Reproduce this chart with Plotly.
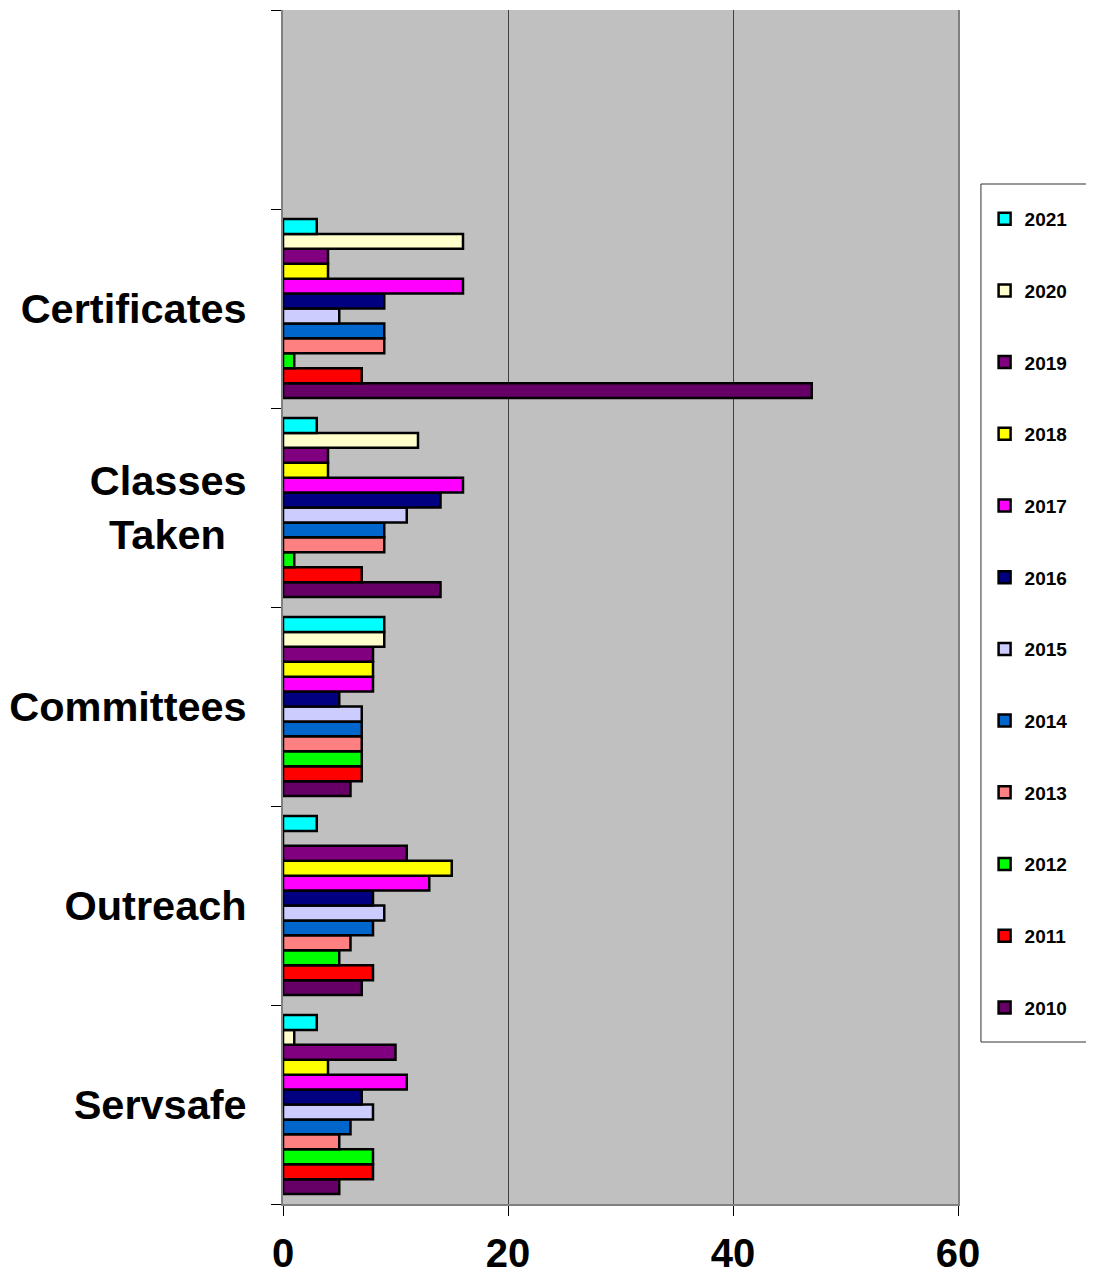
import plotly.graph_objects as go

categories = ["Servsafe", "Outreach", "Committees", "Classes<br>Taken\u2002", "Certificates", " "]
years = ["2010", "2011", "2012", "2013", "2014", "2015", "2016", "2017", "2018", "2019", "2020", "2021"]

# values per year, order: Servsafe, Outreach, Committees, Classes Taken, Certificates
v2010 = [5, 7, 6, 14, 47]
v2011 = [8, 8, 7, 7, 7]
v2012 = [8, 5, 7, 1, 1]
v2013 = [5, 6, 7, 9, 9]
v2014 = [6, 8, 7, 9, 9]
v2015 = [8, 9, 7, 11, 5]
v2016 = [7, 8, 5, 14, 9]
v2017 = [11, 13, 8, 16, 16]
v2018 = [4, 15, 8, 4, 4]
v2019 = [10, 11, 8, 4, 4]
v2020 = [1, 0, 9, 12, 16]
v2021 = [3, 3, 9, 3, 3]

series = [v2010, v2011, v2012, v2013, v2014, v2015, v2016, v2017, v2018, v2019, v2020, v2021]
colors = ["#660066", "#FF0000", "#00FF00", "#FF8080", "#0066CC", "#CCCCFF",
          "#000080", "#FF00FF", "#FFFF00", "#800080", "#FFFFCC", "#00FFFF"]

x_ticks = [0, 20, 40, 60]

FONT = "Arial, Liberation Sans, sans-serif"

fig = go.Figure()

for i, (year, vals, color) in enumerate(zip(years, series, colors)):
    fig.add_trace(
        go.Bar(
            y=categories[:len(vals)],
            x=vals,
            name=year,
            orientation="h",
            marker=dict(color=color, line=dict(color="black", width=2.5)),
            legendgroup=year,
            legendrank=len(years) - i,
        )
    )

# the page is offset by the browser's 8px body margin, so the figure is
# 8px smaller than the window in both directions
fig.update_layout(
    width=1086,
    height=1269,
    paper_bgcolor="white",
    plot_bgcolor="#C0C0C0",
    barmode="group",
    bargap=0.1,
    bargroupgap=0,
    margin=dict(l=275, r=136, t=2, b=73, autoexpand=False),
    font=dict(family=FONT, color="black"),
    xaxis=dict(
        range=[0, 60],
        tickvals=x_ticks,
        ticks="outside",
        ticklen=10,
        tickcolor="black",
        showgrid=True,
        gridcolor="#404040",
        gridwidth=1,
        zeroline=False,
        showline=True,
        linecolor="#808080",
        linewidth=2,
        tickfont=dict(size=40, family=FONT, weight="bold"),
        ticklabelstandoff=3,
    ),
    yaxis=dict(
        categoryorder="array",
        categoryarray=categories,
        range=[-0.5, 5.5],
        tickson="boundaries",
        ticks="outside",
        ticklen=10,
        tickcolor="black",
        showgrid=False,
        showline=True,
        mirror=True,
        linecolor="#808080",
        linewidth=2,
        tickfont=dict(size=41.5, family=FONT, weight="bold"),
        ticklabelstandoff=26,
    ),
    legend=dict(
        x=1.0394,
        xanchor="left",
        y=0.841,
        yanchor="top",
        traceorder="grouped",
        tracegroupgap=44,
        bgcolor="rgba(0,0,0,0)",
        borderwidth=0,
        font=dict(size=19, family=FONT, weight="bold"),
        itemwidth=30,
    ),
    shapes=[
        dict(
            type="rect",
            xref="paper",
            yref="paper",
            x0=1.034,
            x1=1.25,
            y0=(1204 - 1042) / 1194,
            y1=(1204 - 184) / 1194,
            fillcolor="white",
            line=dict(color="#333333", width=1),
            layer="below",
        )
    ],
)

fig.write_html("out.html")
